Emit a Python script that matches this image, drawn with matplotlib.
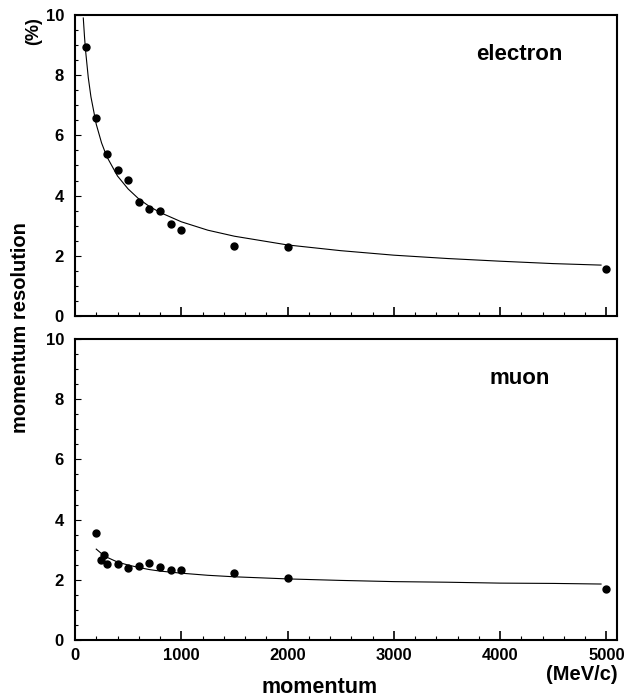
import matplotlib
matplotlib.use("Agg")
import matplotlib.pyplot as plt
from matplotlib.ticker import MultipleLocator

plt.rcParams["font.family"] = ["Liberation Sans", "DejaVu Sans"]
plt.rcParams["font.weight"] = "bold"

# measured resolution (%) vs momentum (MeV/c)
electron_p = [100, 200, 300, 400, 500, 600, 700, 800, 900, 1000, 1500, 2000, 5000]
electron_res = [8.95, 6.57, 5.37, 4.84, 4.51, 3.80, 3.55, 3.50, 3.05, 2.85, 2.34, 2.29, 1.57]

muon_p = [200, 240, 275, 300, 400, 500, 600, 700, 800, 900, 1000, 1500, 2000, 5000]
muon_res = [3.54, 2.66, 2.82, 2.51, 2.53, 2.40, 2.46, 2.55, 2.42, 2.34, 2.33, 2.24, 2.07, 1.69]

# fitted curves
electron_fit_p = [78, 90, 100, 125, 150, 200, 250, 300, 400, 500, 600, 700, 800,
                  1000, 1250, 1500, 2000, 2500, 3000, 3500, 4000, 4500, 4950]
electron_fit_res = [9.90, 9.25, 8.80, 7.92, 7.28, 6.37, 5.75, 5.29, 4.65, 4.22, 3.89,
                    3.64, 3.44, 3.13, 2.85, 2.65, 2.36, 2.17, 2.02, 1.91, 1.82, 1.74, 1.69]

muon_fit_p = [200, 250, 300, 400, 500, 600, 700, 800, 1000, 1250, 1500, 2000,
              2500, 3000, 3500, 4000, 4500, 4950]
muon_fit_res = [3.02, 2.87, 2.75, 2.59, 2.49, 2.41, 2.34, 2.29, 2.22, 2.15, 2.10,
                2.03, 1.98, 1.94, 1.92, 1.89, 1.88, 1.86]

x_ticks = [0, 1000, 2000, 3000, 4000, 5000]
y_ticks = [0, 2, 4, 6, 8, 10]

fig = plt.figure(figsize=(6.26, 7.0), dpi=100)
ax_e = fig.add_axes([0.1198, 0.5486, 0.8658, 0.4300])
ax_m = fig.add_axes([0.1198, 0.0857, 0.8658, 0.4300])


def style_axis(ax, show_xlabels):
    ax.set_xlim(0, 5100)
    ax.set_ylim(0, 10)
    ax.set_xticks(x_ticks)
    ax.set_yticks(y_ticks)
    ax.xaxis.set_minor_locator(MultipleLocator(200))
    ax.yaxis.set_minor_locator(MultipleLocator(0.5))
    for side in ax.spines.values():
        side.set_linewidth(1.5)
    ax.tick_params(axis="x", which="major", direction="in", length=6.5, width=1.2,
                   pad=6, labelsize=12)
    ax.tick_params(axis="x", which="minor", direction="in", length=3, width=0.8)
    ax.tick_params(axis="y", which="major", direction="in", length=4.5, width=0.8,
                   pad=8, labelsize=12)
    ax.tick_params(axis="y", which="minor", direction="in", length=2.2, width=0.8)
    if not show_xlabels:
        ax.tick_params(axis="x", labelbottom=False)
    for lbl in ax.get_xticklabels() + ax.get_yticklabels():
        lbl.set_fontweight("bold")


ax_e.plot(electron_fit_p, electron_fit_res, color="black", lw=0.8)
ax_e.plot(electron_p, electron_res, "o", color="black", ms=5, clip_on=False)
style_axis(ax_e, False)
ax_e.text(0.82, 0.87, "electron", transform=ax_e.transAxes, ha="center",
          va="center", fontsize=16, fontweight="bold")

ax_m.plot(muon_fit_p, muon_fit_res, color="black", lw=0.8)
ax_m.plot(muon_p, muon_res, "o", color="black", ms=5, clip_on=False)
style_axis(ax_m, True)
ax_m.text(0.82, 0.87, "muon", transform=ax_m.transAxes, ha="center",
          va="center", fontsize=16, fontweight="bold")

fig.text(0.032, 0.532, "momentum resolution", rotation=90, ha="center",
         va="center", fontsize=14.5, fontweight="bold")
fig.text(0.053, 0.956, "(%)", rotation=90, ha="center", va="center",
         fontsize=13, fontweight="bold")
fig.text(0.511, 0.018, "momentum", ha="center", va="center",
         fontsize=15.5, fontweight="bold")
fig.text(0.986, 0.036, "(MeV/c)", ha="right", va="center",
         fontsize=14.5, fontweight="bold")

fig.savefig("out.png", dpi=100)
